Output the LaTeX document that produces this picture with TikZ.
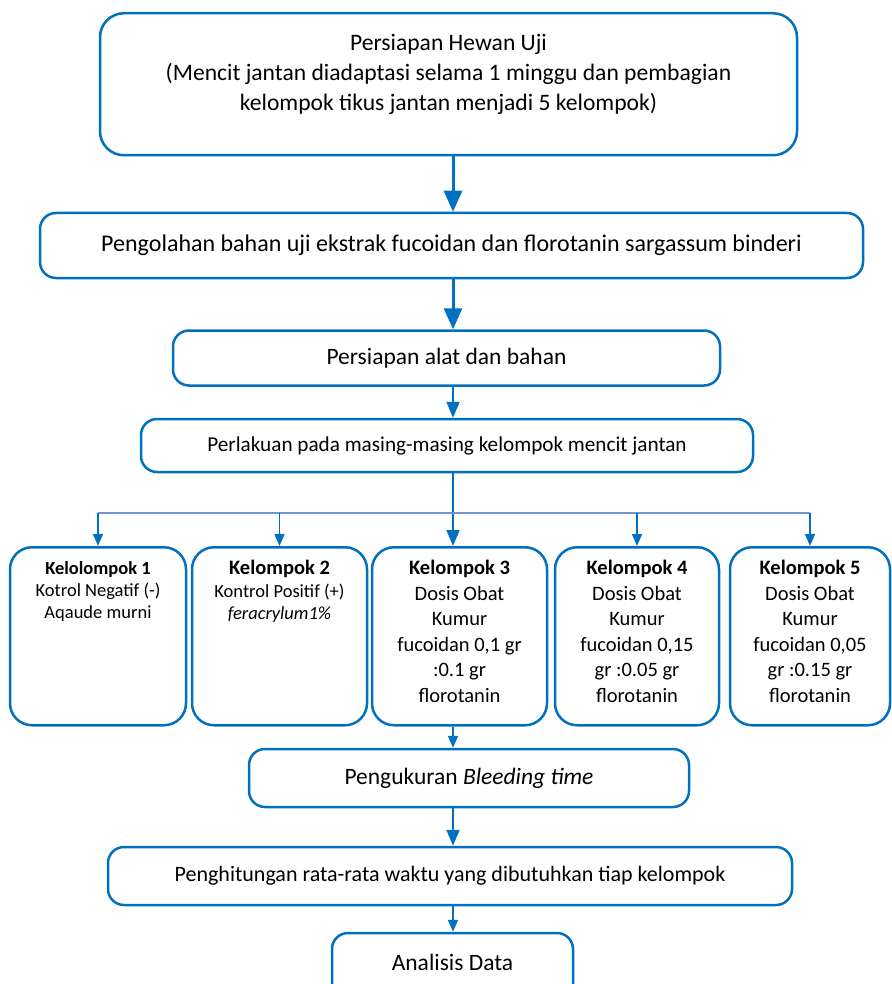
\documentclass[tikz,border=0pt]{standalone}
\usepackage{fontspec}
\setmainfont{Carlito}
\usetikzlibrary{arrows.meta}

\definecolor{boxblue}{HTML}{0070C0}
\definecolor{busblue}{HTML}{7094D4}

\tikzset{
  stepbox/.style={draw=boxblue, line width=2.5pt, rounded corners=16pt,
    inner sep=0pt, align=center, text=black},
  groupbox/.style={stepbox, rounded corners=22pt, anchor=north},
  bigtext/.style={font=\fontsize{23.5}{30}\selectfont},
  midtext/.style={font=\fontsize{24}{28}\selectfont},
  smalltext/.style={font=\fontsize{21.2}{25}\selectfont},
  bigarrow/.style={draw=boxblue, line width=3pt, -{Triangle[width=18pt,length=21pt]}},
  midarrow/.style={draw=boxblue, line width=2pt, -{Triangle[width=13pt,length=16pt]}},
  thinarrow/.style={draw=boxblue, line width=1.5pt, -{Triangle[width=10pt,length=12pt]}},
  busline/.style={draw=busblue, line width=1.5pt}
}

% text of one group box, kept at the top of the box
\newcommand{\grouptext}[3]{\parbox[t][178pt][t]{#1}{\centering\vspace*{#2}#3}}

\begin{document}
\begin{tikzpicture}[x=1pt, y=-1pt]
  \useasboundingbox (0,0) rectangle (891,984);

  % main column
  \node[stepbox, rounded corners=24pt, anchor=north, font=\fontsize{23.6}{30}\selectfont] (hewan) at (448.5,12)
    {\parbox[t][142pt][t]{697pt}{\centering\vspace*{21pt}Persiapan Hewan Uji\\
     (Mencit jantan diadaptasi selama 1 minggu dan pembagian\\
     kelompok tikus jantan menjadi 5 kelompok)}};
  \node[stepbox, midtext, minimum width=823, minimum height=65] (olah) at (451.5,245.5)
    {Pengolahan bahan uji ekstrak fucoidan dan florotanin sargassum binderi};
  \node[stepbox, bigtext, minimum width=547, minimum height=55] (alat) at (446.5,358)
    {Persiapan alat dan bahan};
  \node[stepbox, smalltext, minimum width=612, minimum height=53] (perlakuan) at (447,445.5)
    {Perlakuan pada masing-masing kelompok mencit jantan};

  % five groups
  \node[groupbox, font=\fontsize{18.5}{22}\selectfont] (k1) at (98,546)
    {\grouptext{176pt}{14pt}{\textbf{Kelolompok 1}\\Kotrol Negatif (-)\\Aqaude murni}};
  \node[groupbox, font=\fontsize{18.5}{22.5}\selectfont] (k2) at (279.5,546)
    {\grouptext{175pt}{13pt}{{\fontsize{20.5}{22.5}\selectfont\textbf{Kelompok 2}}\\Kontrol Positif (+)\\\textit{feracrylum1\%}}};
  \node[groupbox, font=\fontsize{20.5}{25.5}\selectfont] (k3) at (459.5,546)
    {\grouptext{175pt}{13pt}{\textbf{Kelompok 3}\\Dosis Obat\\Kumur\\fucoidan 0,1 gr\\:0.1 gr\\florotanin}};
  \node[groupbox, font=\fontsize{20.5}{25.5}\selectfont] (k4) at (637,546)
    {\grouptext{164pt}{13pt}{\textbf{Kelompok 4}\\Dosis Obat\\Kumur\\fucoidan 0,15\\gr :0.05 gr\\florotanin}};
  \node[groupbox, font=\fontsize{20.5}{25.5}\selectfont] (k5) at (810,546)
    {\grouptext{160pt}{13pt}{\textbf{Kelompok 5}\\Dosis Obat\\Kumur\\fucoidan 0,05\\gr :0.15 gr\\florotanin}};

  % measuring and analysis
  \node[stepbox, bigtext, minimum width=440, minimum height=58] (ukur) at (469,778)
    {Pengukuran \textit{Bleeding time}};
  \node[stepbox, font=\fontsize{22}{25}\selectfont, minimum width=684, minimum height=58] (hitung) at (450,876)
    {Penghitungan rata-rata waktu yang dibutuhkan tiap kelompok};
  \node[stepbox, bigtext, minimum width=241, minimum height=78, text depth=18.5pt] (analisis) at (452.5,972)
    {Analisis Data};

  \coordinate (spine) at (453,0);
  \coordinate (bus) at (0,513);

  \draw[bigarrow] (hewan.south -| spine) -- (olah.north -| spine);
  \draw[bigarrow] (olah.south -| spine) -- (alat.north -| spine);
  \draw[midarrow] (alat.south -| spine) -- (perlakuan.north -| spine);
  \draw[midarrow] (perlakuan.south -| spine) -- (k3.north -| spine);
  \draw[busline] (k1.north |- bus) -- (k5.north |- bus);
  \foreach \k in {k1,k2,k4,k5}
    \draw[thinarrow] (\k.north |- bus) -- (\k.north);
  \draw[thinarrow] (k3.south -| spine) -- (ukur.north -| spine);
  \draw[midarrow] (ukur.south -| spine) -- (hitung.north -| spine);
  \draw[thinarrow] (hitung.south -| spine) -- (analisis.north -| spine);
\end{tikzpicture}
\end{document}
